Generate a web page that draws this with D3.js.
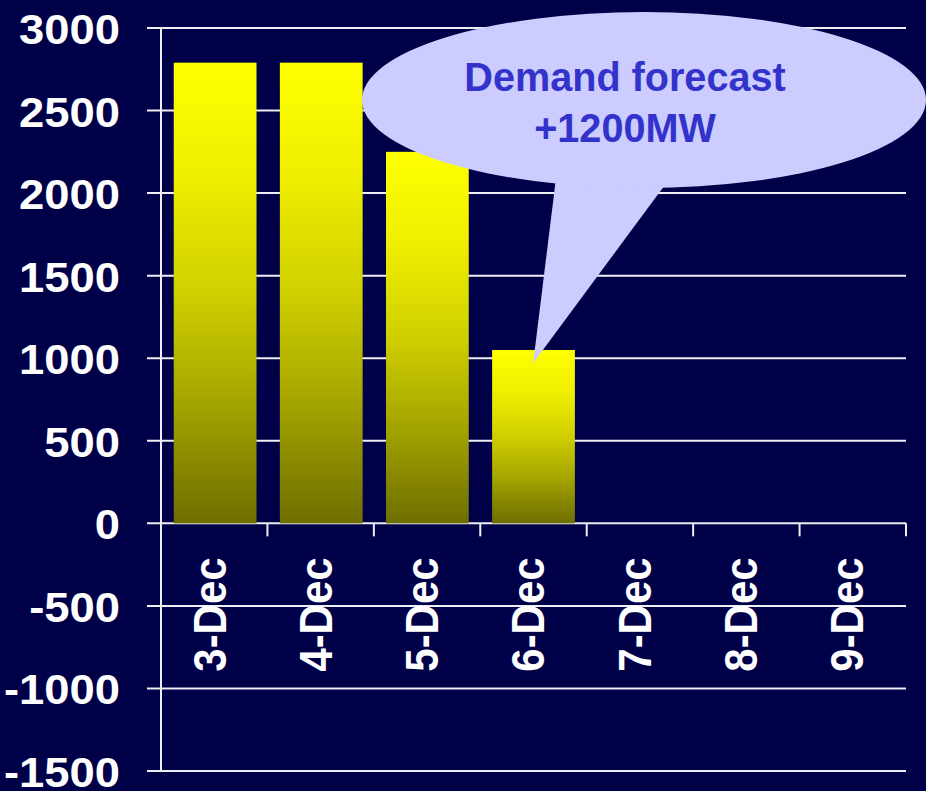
<!DOCTYPE html>
<html>
<head>
<meta charset="utf-8">
<script src="https://cdn.jsdelivr.net/npm/d3@7"></script>
<style>
  html, body { margin: 0; padding: 0; background: #000048; }
  svg { display: block; }
  text { font-family: "Liberation Sans", Arial, Helvetica, sans-serif; font-weight: bold; }
</style>
</head>
<body>
<svg id="chart" width="926" height="791"></svg>
<script>
// ---- data ----
const categories = ["3-Dec", "4-Dec", "5-Dec", "6-Dec", "7-Dec", "8-Dec", "9-Dec"];
const values = [2790, 2790, 2250, 1050, null, null, null];
const yTicks = [-1500, -1000, -500, 0, 500, 1000, 1500, 2000, 2500, 3000];
const yTickLabels = ["-1500", "-1000", "-500", "0", "500", "1000", "1500", "2000", "2500", "3000"];
const calloutLines = ["Demand forecast", "+1200MW"];
const calloutTarget = { category: "6-Dec", value: 970 };

// ---- setup ----
const W = 926, H = 791;
const svg = d3.select("#chart");
svg.append("rect").attr("width", W).attr("height", H).attr("fill", "#000048");

const x = d3.scaleBand().domain(categories).range([161, 906]).paddingInner(0.22).paddingOuter(0.12);
const y = d3.scaleLinear().domain([-1500, 3000]).range([771, 28]);
const xEdges = d3.scaleLinear().domain([0, categories.length]).range(x.range());

// gradient
const defs = svg.append("defs");
const grad = defs.append("linearGradient").attr("id", "barGrad")
  .attr("x1", 0).attr("y1", 0).attr("x2", 0).attr("y2", 1);
[[0, "#ffff00"], [0.25, "#eeee00"], [0.5, "#cfcf00"], [0.75, "#a2a200"], [1, "#6e6e00"]]
  .forEach(([o, c]) => grad.append("stop").attr("offset", o).attr("stop-color", c));

// gridlines
svg.append("g").selectAll("line").data(yTicks).join("line")
  .attr("x1", 147).attr("x2", x.range()[1])
  .attr("y1", d => y(d)).attr("y2", d => y(d))
  .attr("stroke", "#eeeef4").attr("stroke-width", 2);

// y axis line
svg.append("line")
  .attr("x1", x.range()[0]).attr("x2", x.range()[0])
  .attr("y1", y(3000)).attr("y2", y(-1500))
  .attr("stroke", "#eeeef4").attr("stroke-width", 2);

// category tick marks on zero line
svg.append("g").selectAll("line").data(d3.range(1, categories.length + 1)).join("line")
  .attr("x1", d => xEdges(d)).attr("x2", d => xEdges(d))
  .attr("y1", y(0)).attr("y2", y(0) + 13)
  .attr("stroke", "#eeeef4").attr("stroke-width", 2);

// bars
const barData = categories.map((c, i) => ({ c, v: values[i] })).filter(d => d.v != null);
svg.append("g").selectAll("rect").data(barData).join("rect")
  .attr("x", d => x(d.c)).attr("width", x.bandwidth())
  .attr("y", d => y(d.v)).attr("height", d => y(0) - y(d.v))
  .attr("fill", "url(#barGrad)");

// y labels
svg.append("g").selectAll("text").data(yTicks).join("text")
  .attr("transform", d => `translate(120,${y(d)}) scale(1.08,1)`)
  .attr("dy", "0.38em")
  .attr("text-anchor", "end")
  .attr("fill", "#ffffff")
  .attr("font-size", 42)
  .text((d, i) => yTickLabels[i]);

// x labels
svg.append("g").selectAll("text").data(categories).join("text")
  .attr("transform", d => `translate(${x(d) + x.bandwidth() / 2 - 5},${y(0) + 34}) scale(1.08,1) rotate(-90)`)
  .attr("dy", "0.35em")
  .attr("text-anchor", "end")
  .attr("fill", "#ffffff")
  .attr("font-size", 42)
  .text(d => d);

// callout
const tipX = x(calloutTarget.category) + 41;
const tipY = y(calloutTarget.value);
const cg = svg.append("g");
cg.append("polygon")
  .attr("points", [[tipX, tipY], [557, 170], [676, 170]].map(p => p.join(",")).join(" "))
  .attr("fill", "#ccccff");
cg.append("ellipse")
  .attr("cx", 644).attr("cy", 100).attr("rx", 282).attr("ry", 88)
  .attr("fill", "#ccccff");
cg.selectAll("text").data(calloutLines).join("text")
  .attr("transform", (d, i) => `translate(625,${91 + i * 50.5}) scale(0.99,1)`)
  .attr("text-anchor", "middle")
  .attr("fill", "#3333cc")
  .attr("font-size", 40)
  .text(d => d);
</script>
</body>
</html>
